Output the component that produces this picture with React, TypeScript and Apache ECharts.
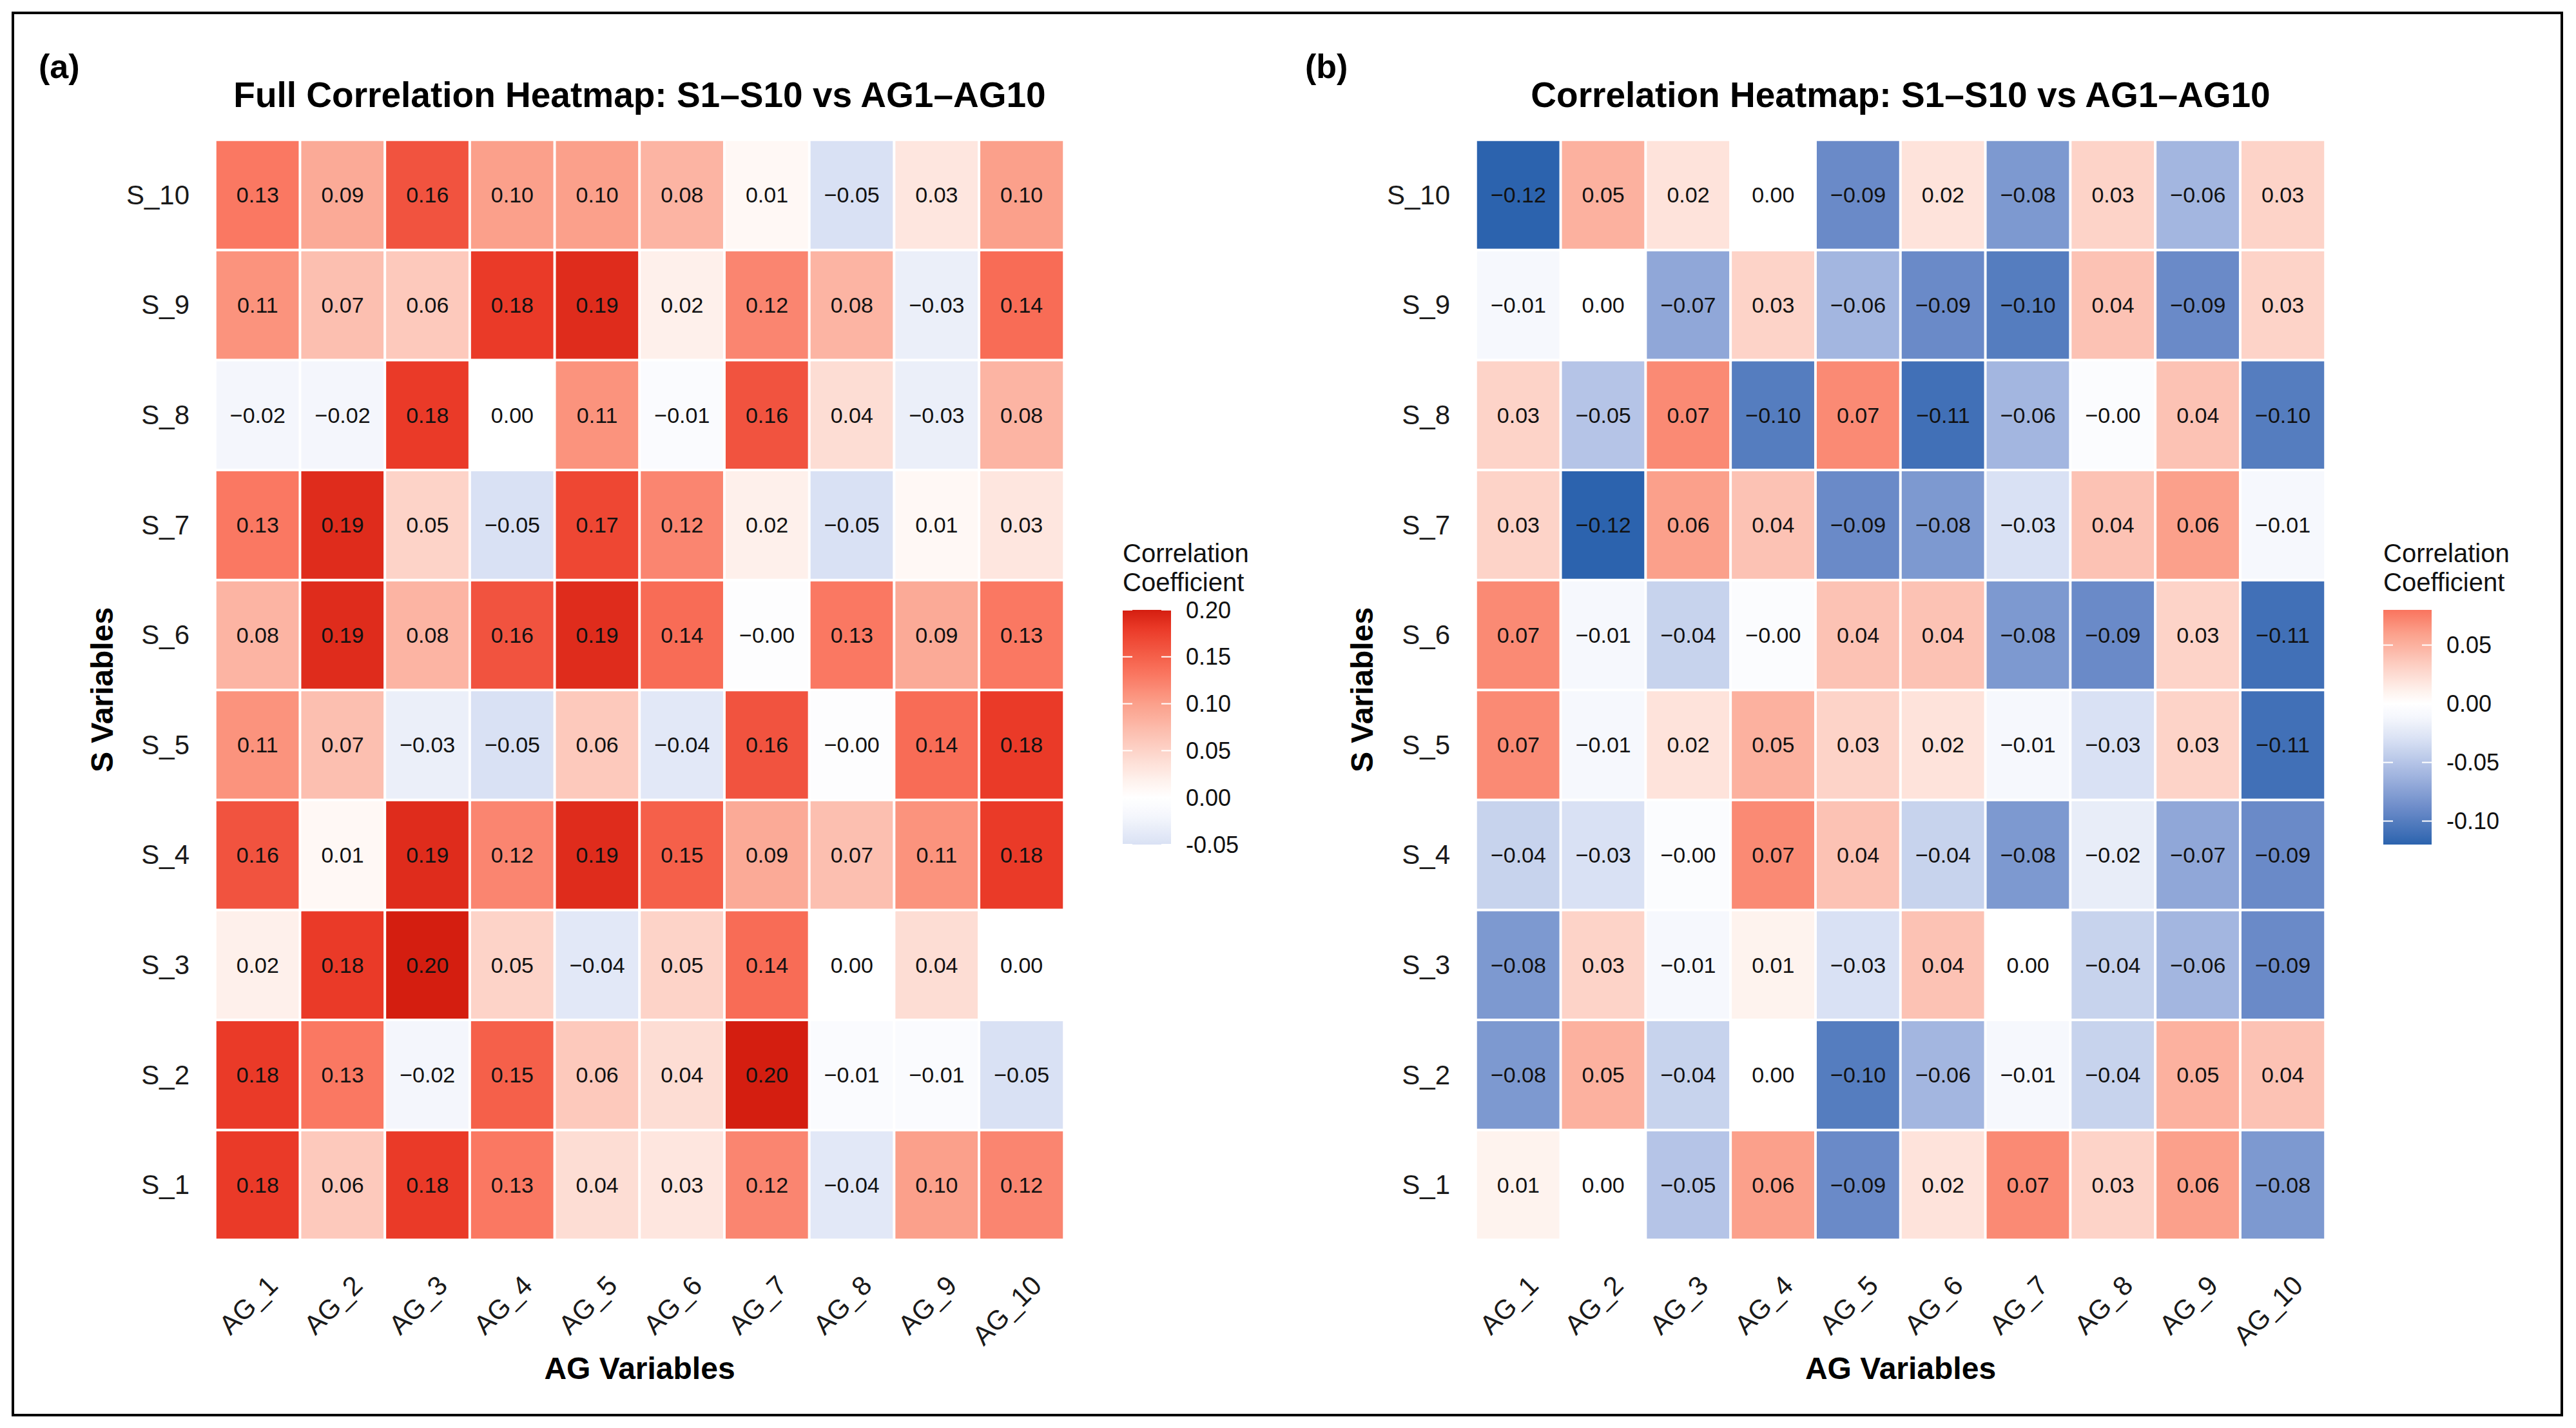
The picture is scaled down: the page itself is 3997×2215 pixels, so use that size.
import React, { useEffect, useRef } from "react";
import * as echarts from "echarts";

const agLabels = ["AG_1", "AG_2", "AG_3", "AG_4", "AG_5", "AG_6", "AG_7", "AG_8", "AG_9", "AG_10"];
const sLabels = ["S_1", "S_2", "S_3", "S_4", "S_5", "S_6", "S_7", "S_8", "S_9", "S_10"];

// Panel (a): rows S_1 .. S_10, columns AG_1 .. AG_10
const fullS1 = [0.18, 0.06, 0.18, 0.13, 0.04, 0.03, 0.12, -0.04, 0.10, 0.12];
const fullS2 = [0.18, 0.13, -0.02, 0.15, 0.06, 0.04, 0.20, -0.01, -0.01, -0.05];
const fullS3 = [0.02, 0.18, 0.20, 0.05, -0.04, 0.05, 0.14, 0.00, 0.04, 0.00];
const fullS4 = [0.16, 0.01, 0.19, 0.12, 0.19, 0.15, 0.09, 0.07, 0.11, 0.18];
const fullS5 = [0.11, 0.07, -0.03, -0.05, 0.06, -0.04, 0.16, -0.004, 0.14, 0.18];
const fullS6 = [0.08, 0.19, 0.08, 0.16, 0.19, 0.14, -0.004, 0.13, 0.09, 0.13];
const fullS7 = [0.13, 0.19, 0.05, -0.05, 0.17, 0.12, 0.02, -0.05, 0.01, 0.03];
const fullS8 = [-0.02, -0.02, 0.18, 0.00, 0.11, -0.01, 0.16, 0.04, -0.03, 0.08];
const fullS9 = [0.11, 0.07, 0.06, 0.18, 0.19, 0.02, 0.12, 0.08, -0.03, 0.14];
const fullS10 = [0.13, 0.09, 0.16, 0.10, 0.10, 0.08, 0.01, -0.05, 0.03, 0.10];

// Panel (b)
const corS1 = [0.01, 0.00, -0.05, 0.06, -0.09, 0.02, 0.07, 0.03, 0.06, -0.08];
const corS2 = [-0.08, 0.05, -0.04, 0.00, -0.10, -0.06, -0.01, -0.04, 0.05, 0.04];
const corS3 = [-0.08, 0.03, -0.01, 0.01, -0.03, 0.04, 0.00, -0.04, -0.06, -0.09];
const corS4 = [-0.04, -0.03, -0.004, 0.07, 0.04, -0.04, -0.08, -0.02, -0.07, -0.09];
const corS5 = [0.07, -0.01, 0.02, 0.05, 0.03, 0.02, -0.01, -0.03, 0.03, -0.11];
const corS6 = [0.07, -0.01, -0.04, -0.004, 0.04, 0.04, -0.08, -0.09, 0.03, -0.11];
const corS7 = [0.03, -0.12, 0.06, 0.04, -0.09, -0.08, -0.03, 0.04, 0.06, -0.01];
const corS8 = [0.03, -0.05, 0.07, -0.10, 0.07, -0.11, -0.06, -0.004, 0.04, -0.10];
const corS9 = [-0.01, 0.00, -0.07, 0.03, -0.06, -0.09, -0.10, 0.04, -0.09, 0.03];
const corS10 = [-0.12, 0.05, 0.02, 0.00, -0.09, 0.02, -0.08, 0.03, -0.06, 0.03];

const fullRows = [fullS1, fullS2, fullS3, fullS4, fullS5, fullS6, fullS7, fullS8, fullS9, fullS10];
const corRows = [corS1, corS2, corS3, corS4, corS5, corS6, corS7, corS8, corS9, corS10];

const legendTicksA = [-0.05, 0.0, 0.05, 0.1, 0.15, 0.2];
const legendTicksB = [-0.1, -0.05, 0.0, 0.05];

const FONT = "'Liberation Sans', Arial, Helvetica, sans-serif";

// diverging palette stops (t in [-1, 1])
const paletteStops: [number, string][] = [
  [-1, "#2c63ae"],
  [-0.75, "#6a8ac8"],
  [-0.5, "#a3b6e0"],
  [-0.25, "#d9e1f4"],
  [-0.1, "#f4f6fc"],
  [0, "#ffffff"],
  [0.1, "#fef0eb"],
  [0.25, "#fdd3c8"],
  [0.5, "#fba08b"],
  [0.65, "#fa7862"],
  [0.75, "#f5604a"],
  [0.9, "#ea3a28"],
  [1, "#d41e10"],
];

function hexToRgb(h: string) {
  return [parseInt(h.slice(1, 3), 16), parseInt(h.slice(3, 5), 16), parseInt(h.slice(5, 7), 16)];
}
function colorAt(t: number) {
  t = Math.max(-1, Math.min(1, t));
  for (let i = 0; i < paletteStops.length - 1; i++) {
    const [t0, c0] = paletteStops[i];
    const [t1, c1] = paletteStops[i + 1];
    if (t >= t0 && t <= t1) {
      const f = (t - t0) / (t1 - t0);
      const a = hexToRgb(c0);
      const b = hexToRgb(c1);
      const r = a.map((v, k) => Math.round(v + (b[k] - v) * f));
      return `rgb(${r[0]},${r[1]},${r[2]})`;
    }
  }
  return "#ffffff";
}
function sampleColors(min: number, max: number, maxAbs: number, n: number) {
  const out: string[] = [];
  for (let i = 0; i < n; i++) {
    const v = min + ((max - min) * i) / (n - 1);
    out.push(colorAt(v / maxAbs));
  }
  return out;
}

function toData(rows: number[][]) {
  const d: number[][] = [];
  rows.forEach((row, i) => row.forEach((v, j) => d.push([j, i, v])));
  return d;
}

function fmt(v: number) {
  return v.toFixed(2).replace("-", "\u2212");
}

export default function App() {
  const ref = useRef<HTMLDivElement>(null);
  useEffect(() => {
    document.body.style.margin = "0";
    document.body.style.overflow = "hidden";
    const chart = echarts.init(ref.current!, null, { renderer: "svg" });

    const gridA = { left: 334, top: 217, width: 1317, height: 1706 };
    const gridB = { left: 2290, top: 217, width: 1318, height: 1706 };

    const minA = -0.05, maxA = 0.2, absA = 0.2;
    const minB = -0.12, maxB = 0.08, absB = 0.12;
    const colorsA = sampleColors(minA, maxA, absA, 51);
    const colorsB = sampleColors(minB, maxB, absB, 41);

    const xAxisCommon = {
      type: "category",
      data: agLabels,
      axisLine: { show: false },
      axisTick: { show: false },
      splitLine: { show: false },
      axisLabel: {
        interval: 0,
        rotate: 45,
        fontSize: 42,
        fontFamily: FONT,
        color: "#1a1a1a",
        margin: 40,
        verticalAlign: "top",
        lineHeight: 66,
      },
    };
    const yAxisCommon = {
      type: "category",
      data: sLabels,
      axisLine: { show: false },
      axisTick: { show: false },
      splitLine: { show: false },
      axisLabel: { fontSize: 42, fontFamily: FONT, color: "#1a1a1a", margin: 40 },
    };

    const seriesCommon = {
      type: "heatmap",
      label: {
        show: true,
        fontSize: 34,
        fontFamily: FONT,
        color: "#111",
        formatter: (p: any) => fmt(p.value[2]),
      },
      itemStyle: { borderColor: "#ffffff", borderWidth: 4 },
      emphasis: { disabled: true },
    };

    function legend(x: number, colors: string[], min: number, max: number, ticks: number[]) {
      const top = 946, height = 364, width = 75;
      const els: any[] = [];
      els.push({
        type: "text",
        x: x,
        y: 858,
        style: { text: "Correlation", fontSize: 40, fontFamily: FONT, fill: "#111", align: "left", verticalAlign: "middle" },
      });
      els.push({
        type: "text",
        x: x,
        y: 903,
        style: { text: "Coefficient", fontSize: 40, fontFamily: FONT, fill: "#111", align: "left", verticalAlign: "middle" },
      });
      const stops = colors
        .slice()
        .reverse()
        .map((c, i) => ({ offset: i / (colors.length - 1), color: c }));
      els.push({
        type: "rect",
        shape: { x: x, y: top, width: width, height: height },
        style: { fill: new echarts.graphic.LinearGradient(0, 0, 0, 1, stops) },
      });
      ticks.forEach((t) => {
        const y = top + ((max - t) / (max - min)) * height;
        els.push({
          type: "line",
          shape: { x1: x, y1: y, x2: x + 15, y2: y },
          style: { stroke: "#ffffff", lineWidth: 2 },
        });
        els.push({
          type: "line",
          shape: { x1: x + width - 15, y1: y, x2: x + width, y2: y },
          style: { stroke: "#ffffff", lineWidth: 2 },
        });
        els.push({
          type: "text",
          x: x + width + 23,
          y: y,
          style: { text: t.toFixed(2), fontSize: 36, fontFamily: FONT, fill: "#111", align: "left", verticalAlign: "middle" },
        });
      });
      return els;
    }

    const boldText = (text: string, x: number, y: number, size: number, rotation = 0, align = "center") => ({
      type: "text",
      x,
      y,
      rotation,
      style: { text, fontSize: size, fontWeight: "bold", fontFamily: FONT, fill: "#000", align, verticalAlign: "middle" },
    });

    const cxA = gridA.left + gridA.width / 2;
    const cyA = gridA.top + gridA.height / 2;
    const cxB = gridB.left + gridB.width / 2;

    chart.setOption({
      animation: false,
      backgroundColor: "#ffffff",
      grid: [
        { ...gridA, containLabel: false },
        { ...gridB, containLabel: false },
      ],
      xAxis: [
        { ...xAxisCommon, gridIndex: 0 },
        { ...xAxisCommon, gridIndex: 1 },
      ],
      yAxis: [
        { ...yAxisCommon, gridIndex: 0 },
        { ...yAxisCommon, gridIndex: 1 },
      ],
      visualMap: [
        { type: "continuous", show: false, seriesIndex: 0, dimension: 2, min: minA, max: maxA, inRange: { color: colorsA } },
        { type: "continuous", show: false, seriesIndex: 1, dimension: 2, min: minB, max: maxB, inRange: { color: colorsB } },
      ],
      series: [
        { ...seriesCommon, xAxisIndex: 0, yAxisIndex: 0, data: toData(fullRows) },
        { ...seriesCommon, xAxisIndex: 1, yAxisIndex: 1, data: toData(corRows) },
      ],
      graphic: [
        boldText("(a)", 60, 103, 52, 0, "left"),
        boldText("(b)", 2025, 103, 52, 0, "left"),
        boldText("Full Correlation Heatmap: S1\u2013S10 vs AG1\u2013AG10", cxA, 147, 55),
        boldText("Correlation Heatmap: S1\u2013S10 vs AG1\u2013AG10", cxB, 147, 55),
        boldText("S Variables", 158, cyA, 48, Math.PI / 2),
        boldText("S Variables", 2113, cyA, 48, Math.PI / 2),
        boldText("AG Variables", cxA, 2122, 48),
        boldText("AG Variables", cxB, 2122, 48),
        ...legend(1742, colorsA, minA, maxA, legendTicksA),
        ...legend(3698, colorsB, minB, maxB, legendTicksB),
        {
          type: "rect",
          z: 100,
          shape: { x: 20, y: 20, width: 3955, height: 2175 },
          style: { fill: "none", stroke: "#000", lineWidth: 4 },
        },
      ],
    });
    return () => chart.dispose();
  }, []);
  return <div ref={ref} style={{ width: "3997px", height: "2215px" }} />;
}
